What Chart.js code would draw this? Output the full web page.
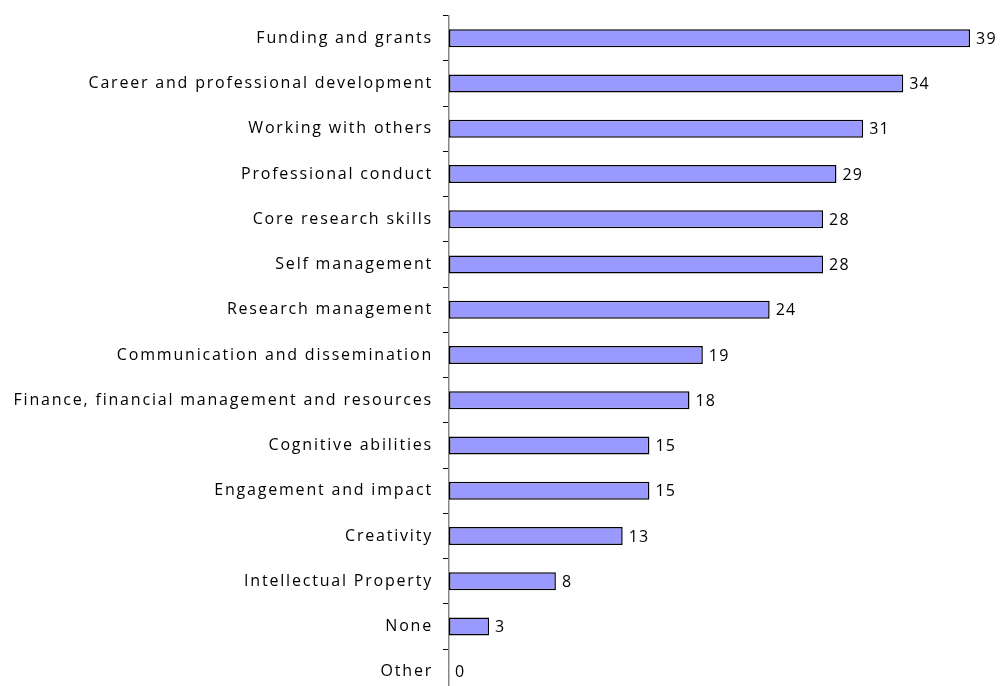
<!DOCTYPE html>
<html>
<head>
<meta charset="utf-8">
<script src="https://cdn.jsdelivr.net/npm/chart.js@4/dist/chart.umd.min.js"></script>
<style>
  html, body { margin: 0; padding: 0; background: #fff; overflow: hidden; }
  #wrap { width: 1001px; height: 686px; overflow: hidden; position: relative; }
  #box { width: 1001px; height: 718px; position: absolute; left: 0; top: -4px; }
</style>
</head>
<body>
<div id="wrap"><div id="box"><canvas id="c"></canvas></div></div>
<script>
const categories = [
  'Funding and grants',
  'Career and professional development',
  'Working with others',
  'Professional conduct',
  'Core research skills',
  'Self management',
  'Research management',
  'Communication and dissemination',
  'Finance, financial management and resources',
  'Cognitive abilities',
  'Engagement and impact',
  'Creativity',
  'Intellectual Property',
  'None',
  'Other'
];
const counts = [39, 34, 31, 29, 28, 28, 24, 19, 18, 15, 15, 13, 8, 3, 0];

const FONT = { family: '"Open Sans", sans-serif', size: 16 };
const SPACING = '1.8px';

// letter spacing for all canvas text
const spacingPlugin = {
  id: 'spacing',
  beforeLayout(chart) { chart.ctx.letterSpacing = SPACING; },
  beforeDraw(chart) { chart.ctx.letterSpacing = SPACING; }
};

// value printed just past the end of each bar
const valueLabels = {
  id: 'valueLabels',
  afterDatasetsDraw(chart) {
    const ctx = chart.ctx;
    const meta = chart.getDatasetMeta(0);
    ctx.save();
    ctx.letterSpacing = '1.2px';
    ctx.font = `${FONT.size}px ${FONT.family}`;
    ctx.fillStyle = '#000';
    ctx.textAlign = 'left';
    ctx.textBaseline = 'middle';
    meta.data.forEach((bar, i) => {
      ctx.fillText(String(counts[i]), bar.x + 6, bar.y + 1);
    });
    ctx.restore();
  }
};

new Chart(document.getElementById('c'), {
  type: 'bar',
  data: {
    labels: categories,
    datasets: [{
      data: counts,
      backgroundColor: '#9999FF',
      borderColor: '#000',
      borderWidth: 1.5,
      borderSkipped: false,
      barPercentage: 0.4,
      categoryPercentage: 1
    }]
  },
  options: {
    indexAxis: 'y',
    responsive: true,
    maintainAspectRatio: false,
    animation: false,
    layout: { padding: { top: 8, bottom: 7, right: 17.6, left: 0 } },
    plugins: { legend: { display: false }, tooltip: { enabled: false } },
    scales: {
      x: {
        display: false,
        min: 0,
        max: 40
      },
      y: {
        offset: true,
        afterFit(scale) { scale.width = 449; },
        grid: {
          offset: true,
          drawOnChartArea: false,
          drawTicks: true,
          tickLength: 6,
          color: '#000'
        },
        border: { display: true, color: '#888', width: 1.5 },
        ticks: {
          color: '#000',
          font: FONT,
          padding: 10
        }
      }
    }
  },
  plugins: [spacingPlugin, valueLabels]
});
</script>
</body>
</html>
